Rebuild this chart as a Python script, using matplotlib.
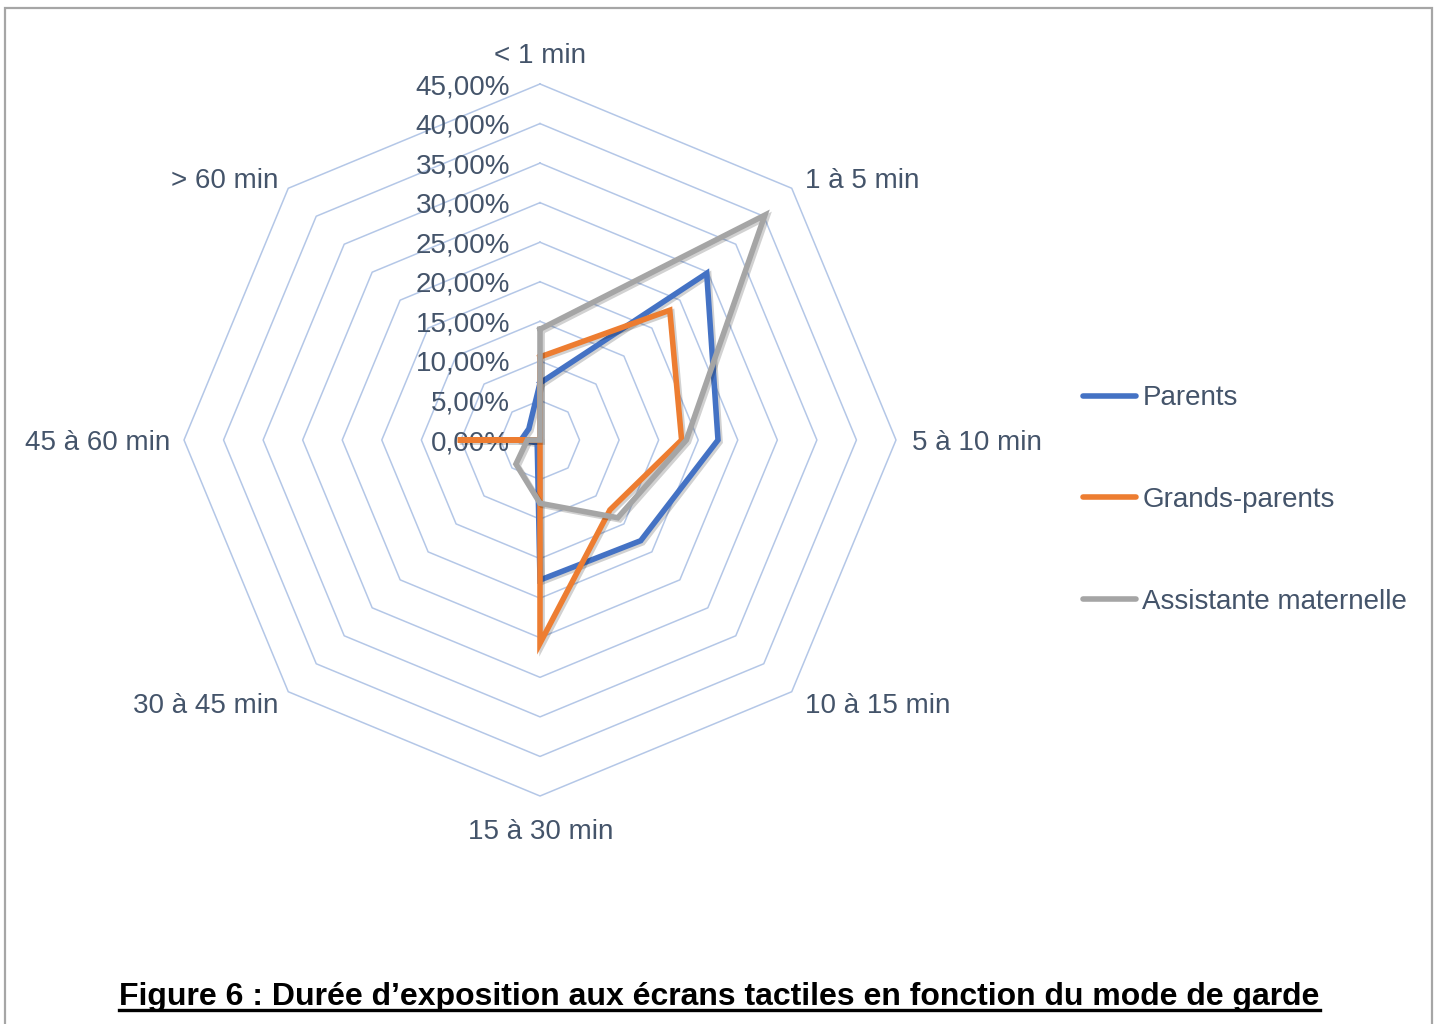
import numpy as np
import matplotlib
matplotlib.use("Agg")
import matplotlib.pyplot as plt
import matplotlib.patheffects as pe
from matplotlib.transforms import offset_copy
from matplotlib.lines import Line2D
from matplotlib.patches import Rectangle

plt.rcParams['font.family'] = ['Liberation Sans', 'DejaVu Sans']

# Durée d'exposition (en %) par mode de garde
categories = ['< 1 min', '1 à 5 min', '5 à 10 min', '10 à 15 min',
              '15 à 30 min', '30 à 45 min', '45 à 60 min', '> 60 min']
parents = [7.2, 29.8, 22.5, 18.0, 17.7, 0.5, 2.4, 2.0]
grands_parents = [10.5, 23.2, 17.9, 12.5, 25.7, 0.0, 10.4, 0.0]
assistante = [14.0, 40.2, 18.5, 13.9, 8.0, 4.3, 1.6, 0.0]
series_names = ['Parents', 'Grands-parents', 'Assistante maternelle']
ring_levels = [0, 5, 10, 15, 20, 25, 30, 35, 40, 45]

colors = ['#4472C4', '#ED7D31', '#A5A5A5']
text_color = '#44546A'
grid_color = '#B4C7E7'

W, H = 1437, 1024
fig = plt.figure(figsize=(W / 100, H / 100), dpi=100)

# polar axes centred on the chart, radius 45 % = 356 px
cx, cy, R = 540, 440, 356
ax = fig.add_axes([(cx - R) / W, (H - cy - R) / H, 2 * R / W, 2 * R / H],
                  projection='polar')
ax.set_theta_offset(np.pi / 2)
ax.set_theta_direction(-1)
ax.set_ylim(0, 45)
ax.grid(False)
ax.spines['polar'].set_visible(False)
ax.set_xticks([])
ax.set_yticks([])
ax.patch.set_alpha(0)

n = len(categories)
angles = np.arange(n) * 2 * np.pi / n
closed = np.append(angles, angles[0])

# octagonal grid
for lvl in ring_levels[1:]:
    ax.plot(closed, [lvl] * (n + 1), color=grid_color, lw=1.1, zorder=1,
            clip_on=False)

# radial tick labels
tick_tr = offset_copy(ax.transData, fig=fig, x=-30, y=-3, units='dots')
for lvl in ring_levels:
    ax.text(0, lvl, f'{lvl:.2f}'.replace('.', ',') + '%', transform=tick_tr,
            ha='right', va='center', fontsize=20, color=text_color, zorder=2)

# category labels around the web
label_offsets = [(0, 28, 'center'), (13, 7, 'left'), (16, -3, 'left'),
                 (13, -14, 'left'), (1, -36, 'center'), (-10, -14, 'right'),
                 (-14, -3, 'right'), (-10, 7, 'right')]
for ang, cat, (dx, dy, ha) in zip(angles, categories, label_offsets):
    tr = offset_copy(ax.transData, fig=fig, x=dx, y=dy, units='dots')
    ax.text(ang, 45, cat, transform=tr, ha=ha, va='center', fontsize=20,
            color=text_color)

shadow = [pe.SimpleLineShadow(offset=(1.5, -1.5), shadow_color='#000000',
                              alpha=0.18), pe.Normal()]
handles = []
for vals, col, name in zip([parents, grands_parents, assistante], colors,
                           series_names):
    v = np.append(vals, vals[0])
    line, = ax.plot(closed, v, color=col, lw=4.0, solid_joinstyle='miter',
                    zorder=3, clip_on=False, path_effects=shadow, label=name)
    handles.append(Line2D([], [], color=col, lw=4.0, solid_capstyle='round'))

fig.legend(handles, series_names, loc='center left',
           bbox_to_anchor=(1083 / W, (H - 500) / H), frameon=False,
           fontsize=20, labelcolor=text_color, handlelength=1.9,
           handletextpad=0.24, labelspacing=2.72, borderpad=0,
           borderaxespad=0)

# outer frame
fig.patches.append(Rectangle((5 / W, -0.05), 1427 / W, 1 - 8 / H + 0.05,
                             transform=fig.transFigure, fill=False,
                             edgecolor='#A6A6A6', lw=1.6))

# underlined caption
title = fig.text(0.5007, (H - 1005) / H,
                 'Figure 6 : Durée d’exposition aux écrans tactiles en fonction du mode de garde',
                 ha='center', va='baseline', fontsize=23, fontweight='bold',
                 color='black')
fig.canvas.draw()
bb = title.get_window_extent()
uy = (H - 1010) / H
fig.add_artist(Line2D([bb.x0 / W, bb.x1 / W], [uy, uy], color='black',
                      lw=2.4, transform=fig.transFigure))

fig.savefig('out.png', dpi=100)
